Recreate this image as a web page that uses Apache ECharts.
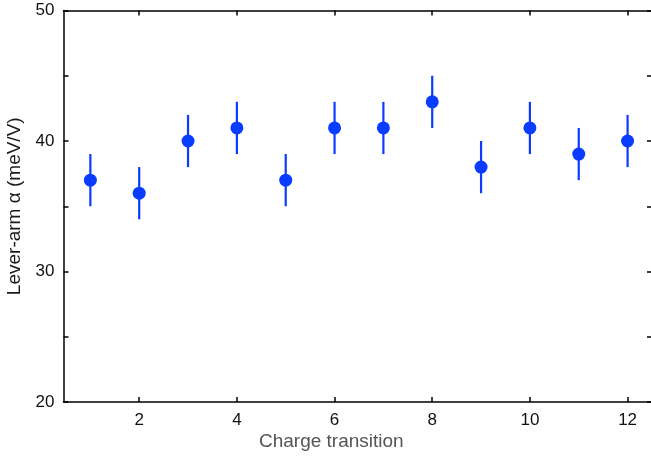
<!DOCTYPE html>
<html><head><meta charset="utf-8">
<script src="https://cdn.jsdelivr.net/npm/echarts@6/dist/echarts.min.js"></script>
<style>html,body{margin:0;padding:0;background:#fff}#c{width:651px;height:458px}</style>
</head><body><div id="c"></div>
<script>
const transitions = [1,2,3,4,5,6,7,8,9,10,11,12];
const leverArm = [37,36,40,41,37,41,41,43,38,41,39,40];
const errLow = [35,34,38,39,35,39,39,41,36,39,37,38];
const errHigh = [39,38,42,43,39,43,43,45,40,43,41,42];
const xTicks = [2,4,6,8,10,12];
const yTicks = [20,30,40,50];

const blue = '#0a3cff';
const font = 'Liberation Sans, Arial, sans-serif';
const chart = echarts.init(document.getElementById('c'));
const axLine = {show:true, lineStyle:{color:'#000', width:1.5}};
const tick = {show:true, inside:true, length:5, lineStyle:{color:'#000', width:1.5}};
chart.setOption({
  animation:false,
  grid:{left:63.5, top:10.5, right:-1, bottom:56, containLabel:false, outerBoundsMode:'none'},
  graphic:[{
    type:'text', left:259, top:432,
    style:{text:'Charge transition', fill:'#555', fontSize:19, fontFamily:font}
  }],
  xAxis:[{
    type:'value', min:0.45, max:12.5,
    axisLine:axLine,
    axisTick:Object.assign({}, tick, {customValues:xTicks}),
    axisLabel:{customValues:xTicks, color:'#111', fontSize:17, fontFamily:font, margin:10},
    splitLine:{show:false}
  },{
    type:'value', position:'top', min:0.45, max:12.5,
    axisLine:axLine,
    axisTick:Object.assign({}, tick, {customValues:xTicks}),
    axisLabel:{show:false}, splitLine:{show:false}
  }],
  yAxis:[{
    type:'value', min:20, max:50, interval:5,
    axisLine:axLine, axisTick:tick,
    axisLabel:{customValues:yTicks, color:'#111', fontSize:17, fontFamily:font, margin:9},
    splitLine:{show:false},
    name:'Lever-arm α (meV/V)', nameLocation:'middle', nameGap:35,
    nameTextStyle:{color:'#1a1a1a', fontSize:19, fontFamily:font}
  },{
    type:'value', position:'right', min:20, max:50, interval:5,
    axisLine:axLine, axisTick:tick,
    axisLabel:{show:false}, splitLine:{show:false}
  }],
  series:[{
    type:'custom',
    data: transitions.map((x,i)=>[x, errLow[i], errHigh[i]]),
    renderItem:function(params, api){
      const lo = api.coord([api.value(0), api.value(1)]);
      const hi = api.coord([api.value(0), api.value(2)]);
      return {type:'line', shape:{x1:lo[0], y1:lo[1], x2:hi[0], y2:hi[1]},
              style:{stroke:blue, lineWidth:2.2}};
    },
    z:2
  },{
    type:'scatter',
    data: transitions.map((x,i)=>[x, leverArm[i]]),
    symbol:'circle', symbolSize:13,
    itemStyle:{color:blue, opacity:1},
    z:3
  }]
});
</script></body></html>
